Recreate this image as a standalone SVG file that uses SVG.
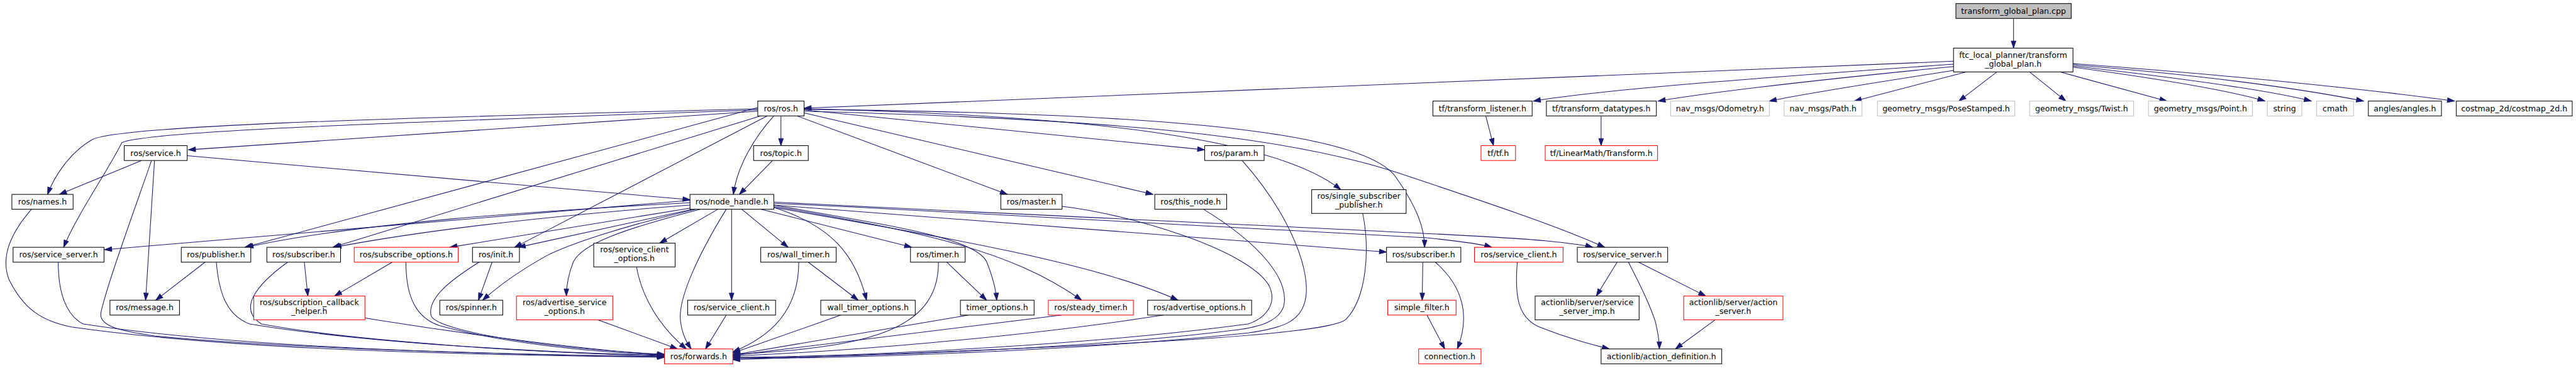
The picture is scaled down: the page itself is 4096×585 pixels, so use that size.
<svg xmlns="http://www.w3.org/2000/svg" width="4096" height="585" viewBox="0 0 4096 585">
<defs>
<style>
rect{fill:#fff;stroke:#000;stroke-width:1.1}
.g rect{stroke:#bfbfbf}
.r rect{stroke:#ff0000}
.root rect{fill:#bfbfbf}
text{font-family:"DejaVu Sans","Liberation Sans",sans-serif;font-size:13.33px;text-anchor:middle;fill:#000}
#edges path{fill:none;stroke:#191970;stroke-width:1.1;marker-end:url(#a)}
</style>
<marker id="a" markerUnits="userSpaceOnUse" markerWidth="13" markerHeight="10" refX="12" refY="5" orient="auto" overflow="visible"><path d="M0,1 L12,5 L0,9 z" fill="#191970" stroke="#191970" stroke-width="1"/></marker>
</defs>
<rect x="0" y="0" width="4096" height="585" style="fill:#fff;stroke:none"/>
<g transform="scale(0.945)">
<g id="edges">
<path d="M3388,31 L3388,81"/>
<path d="M3287,103 L1353,182"/>
<path d="M3287,108 C3000,128 2700,150 2580,170"/>
<path d="M3287,112 C3050,135 2900,152 2790,170"/>
<path d="M3290,118 C3150,140 3050,155 2977,170"/>
<path d="M3309,121 L3120,170"/>
<path d="M3360,121 L3296,170"/>
<path d="M3415,121 L3476,170"/>
<path d="M3466,121 L3646,170"/>
<path d="M3488,113 C3650,135 3760,155 3811,170"/>
<path d="M3488,111 C3700,135 3830,155 3889,170"/>
<path d="M3488,109 C3750,130 3900,155 3977,170"/>
<path d="M3488,107 C3800,130 4020,155 4130,170"/>
<path d="M2500,195 L2513,245"/>
<path d="M2694,195 L2694,245"/>
<path d="M1275,187 L317,252"/>
<path d="M1275,183 C600,200 200,212 155,235 C115,258 90,300 80,327"/>
<path d="M1275,185 C700,205 240,220 205,240 C180,290 130,360 107,416"/>
<path d="M1275,181 L412,416"/>
<path d="M1280,195 L560,416"/>
<path d="M1291,195 L866,416"/>
<path d="M1302,195 C1270,230 1240,280 1234,327"/>
<path d="M1314,195 L1314,245"/>
<path d="M1341,195 L1695,327"/>
<path d="M1353,190 L1940,327"/>
<path d="M1353,185 L2027,252"/>
<path d="M1353,183 C1850,195 2150,235 2256,319"/>
<path d="M1353,184 C1950,190 2300,220 2350,300 C2385,350 2397,385 2397,416"/>
<path d="M1353,187 C1850,200 2150,225 2350,290 C2500,340 2620,380 2700,416"/>
<path d="M238,270 L100,327"/>
<path d="M260,270 L245,505"/>
<path d="M255,270 C220,370 180,480 170,525 C165,548 200,557 260,565 C500,588 900,597 1118,600"/>
<path d="M315,262 L1161,336"/>
<path d="M1300,270 L1244,327"/>
<path d="M53,352 C20,390 0,430 15,470 C40,520 70,540 120,550 C400,590 800,597 1118,601"/>
<path d="M1161,337 L176,420"/>
<path d="M1161,341 C900,355 600,375 414,416"/>
<path d="M1161,345 C900,365 700,390 562,416"/>
<path d="M1162,350 L757,416"/>
<path d="M1165,352 L872,416"/>
<path d="M1170,352 C1050,380 960,410 920,430 C875,455 840,480 812,505"/>
<path d="M1178,352 C1050,385 980,410 965,440 C956,462 953,480 953,498"/>
<path d="M1208,352 L1110,409"/>
<path d="M1222,352 C1180,420 1140,500 1145,540 C1148,565 1157,578 1163,587"/>
<path d="M1231,352 L1231,505"/>
<path d="M1248,352 L1326,416"/>
<path d="M1302,349 C1400,380 1440,430 1458,505"/>
<path d="M1281,352 L1534,416"/>
<path d="M1302,345 C1500,380 1640,400 1660,440 C1672,470 1676,490 1677,505"/>
<path d="M1302,347 C1550,390 1700,420 1820,505"/>
<path d="M1302,349 C1600,400 1850,445 1982,505"/>
<path d="M1302,345 L2333,424"/>
<path d="M1302,342 C1800,365 2350,395 2400,400 C2450,405 2490,410 2510,416"/>
<path d="M1302,340 C1900,370 2500,395 2600,405 C2640,409 2665,412 2680,416"/>
<path d="M98,441 C98,490 110,530 140,545 C400,585 800,596 1118,600"/>
<path d="M345,441 L262,505"/>
<path d="M364,441 C368,490 380,530 420,545 C600,575 900,593 1118,599"/>
<path d="M512,441 L518,498"/>
<path d="M484,441 C430,480 400,520 440,545 C600,575 900,593 1118,598"/>
<path d="M660,441 L563,498"/>
<path d="M683,441 C683,500 700,535 740,548 C850,578 1000,593 1118,597"/>
<path d="M828,441 L805,505"/>
<path d="M806,441 C760,470 720,500 725,530 C730,555 900,585 1118,596"/>
<path d="M614,535 C800,565 1000,590 1118,597"/>
<path d="M1006,538 L1140,587"/>
<path d="M1071,449 C1080,500 1110,550 1155,587"/>
<path d="M1222,530 L1187,587"/>
<path d="M1344,441 C1344,520 1300,565 1233,592"/>
<path d="M1360,441 L1444,505"/>
<path d="M1593,441 L1660,505"/>
<path d="M1579,441 C1580,560 1450,585 1233,596"/>
<path d="M1415,530 L1233,594"/>
<path d="M1630,530 L1233,597"/>
<path d="M1787,530 L1233,598"/>
<path d="M1958,530 C1700,570 1400,592 1233,599"/>
<path d="M1787,347 C1900,360 2100,420 2135,480 C2150,510 2130,535 2100,545 C1800,585 1400,600 1233,601"/>
<path d="M2025,352 C2120,410 2170,470 2160,515 C2152,540 2120,550 2080,555 C1800,590 1400,601 1233,602"/>
<path d="M2090,270 C2170,360 2210,460 2195,510 C2186,540 2160,552 2100,560 C1800,592 1400,603 1233,603"/>
<path d="M2293,359 C2305,420 2300,500 2265,537 C2240,560 2000,578 1233,605"/>
<path d="M2394,441 L2393,505"/>
<path d="M2415,441 C2460,480 2475,530 2452,587"/>
<path d="M2401,530 L2431,587"/>
<path d="M2553,441 C2548,500 2555,535 2590,550 C2640,570 2680,580 2708,587"/>
<path d="M2721,441 L2686,498"/>
<path d="M2740,441 C2760,480 2775,510 2785,540 C2790,560 2792,575 2792,587"/>
<path d="M2757,441 L2870,498"/>
<path d="M2886,538 L2819,587"/>
</g>
<g id="n_cpp" class="root"><rect x="3291" y="6" width="194" height="25"/><text x="3388" y="23">transform_global_plan.cpp</text></g>
<g id="n_ftc"><rect x="3287" y="81" width="201" height="40"/><text x="3387.5" y="97">ftc_local_planner/transform</text><text x="3387.5" y="112">_global_plan.h</text></g>
<g id="n_ros"><rect x="1275" y="170" width="78" height="25"/><text x="1314" y="187">ros/ros.h</text></g>
<g id="n_tl"><rect x="2411" y="170" width="167" height="25"/><text x="2494.5" y="187">tf/transform_listener.h</text></g>
<g id="n_td"><rect x="2602" y="170" width="185" height="25"/><text x="2694.5" y="187">tf/transform_datatypes.h</text></g>
<g id="n_odo" class="g"><rect x="2811" y="170" width="166" height="25"/><text x="2894" y="187">nav_msgs/Odometry.h</text></g>
<g id="n_path" class="g"><rect x="3002" y="170" width="131" height="25"/><text x="3067.5" y="187">nav_msgs/Path.h</text></g>
<g id="n_pose" class="g"><rect x="3159" y="170" width="231" height="25"/><text x="3274.5" y="187">geometry_msgs/PoseStamped.h</text></g>
<g id="n_twist" class="g"><rect x="3415" y="170" width="175" height="25"/><text x="3502.5" y="187">geometry_msgs/Twist.h</text></g>
<g id="n_point" class="g"><rect x="3615" y="170" width="175" height="25"/><text x="3702.5" y="187">geometry_msgs/Point.h</text></g>
<g id="n_string" class="g"><rect x="3815" y="170" width="58" height="25"/><text x="3844" y="187">string</text></g>
<g id="n_cmath" class="g"><rect x="3898" y="170" width="62" height="25"/><text x="3929" y="187">cmath</text></g>
<g id="n_angles"><rect x="3985" y="170" width="123" height="25"/><text x="4046.5" y="187">angles/angles.h</text></g>
<g id="n_costmap"><rect x="4133" y="170" width="195" height="25"/><text x="4230.5" y="187">costmap_2d/costmap_2d.h</text></g>
<g id="n_service"><rect x="209" y="245" width="106" height="25"/><text x="262" y="262">ros/service.h</text></g>
<g id="n_topic"><rect x="1268" y="245" width="92" height="25"/><text x="1314" y="262">ros/topic.h</text></g>
<g id="n_param"><rect x="2027" y="245" width="100" height="25"/><text x="2077" y="262">ros/param.h</text></g>
<g id="n_tftf" class="r"><rect x="2492" y="245" width="58" height="25"/><text x="2521" y="262">tf/tf.h</text></g>
<g id="n_lmt" class="r"><rect x="2600" y="245" width="189" height="25"/><text x="2694.5" y="262">tf/LinearMath/Transform.h</text></g>
<g id="n_names"><rect x="20" y="327" width="103" height="25"/><text x="71.5" y="344">ros/names.h</text></g>
<g id="n_nh"><rect x="1161" y="327" width="141" height="25"/><text x="1231.5" y="344">ros/node_handle.h</text></g>
<g id="n_master"><rect x="1684" y="327" width="103" height="25"/><text x="1735.5" y="344">ros/master.h</text></g>
<g id="n_thisnode"><rect x="1943" y="327" width="121" height="25"/><text x="2003.5" y="344">ros/this_node.h</text></g>
<g id="n_ssp"><rect x="2207" y="319" width="159" height="40"/><text x="2286.5" y="334.5">ros/single_subscriber</text><text x="2286.5" y="349.5">_publisher.h</text></g>
<g id="n_ssA"><rect x="22" y="416" width="153" height="25"/><text x="98.5" y="433">ros/service_server.h</text></g>
<g id="n_pub"><rect x="305" y="416" width="117" height="25"/><text x="363.5" y="433">ros/publisher.h</text></g>
<g id="n_subA"><rect x="449" y="416" width="124" height="25"/><text x="511" y="433">ros/subscriber.h</text></g>
<g id="n_subopt" class="r"><rect x="596" y="416" width="175" height="25"/><text x="683.5" y="433">ros/subscribe_options.h</text></g>
<g id="n_init"><rect x="795" y="416" width="79" height="25"/><text x="834.5" y="433">ros/init.h</text></g>
<g id="n_sco"><rect x="999" y="409" width="137" height="40"/><text x="1067.5" y="424.5">ros/service_client</text><text x="1067.5" y="439.5">_options.h</text></g>
<g id="n_wt"><rect x="1280" y="416" width="127" height="25"/><text x="1343.5" y="433">ros/wall_timer.h</text></g>
<g id="n_timer"><rect x="1532" y="416" width="92" height="25"/><text x="1578" y="433">ros/timer.h</text></g>
<g id="n_subB"><rect x="2333" y="416" width="125" height="25"/><text x="2395.5" y="433">ros/subscriber.h</text></g>
<g id="n_scR" class="r"><rect x="2481" y="416" width="149" height="25"/><text x="2555.5" y="433">ros/service_client.h</text></g>
<g id="n_ssB"><rect x="2654" y="416" width="152" height="25"/><text x="2730" y="433">ros/service_server.h</text></g>
<g id="n_msg"><rect x="185" y="505" width="117" height="25"/><text x="243.5" y="522">ros/message.h</text></g>
<g id="n_sch" class="r"><rect x="427" y="498" width="187" height="40"/><text x="520.5" y="513.5">ros/subscription_callback</text><text x="520.5" y="528.5">_helper.h</text></g>
<g id="n_spin"><rect x="740" y="505" width="106" height="25"/><text x="793" y="522">ros/spinner.h</text></g>
<g id="n_aso" class="r"><rect x="869" y="498" width="162" height="40"/><text x="950" y="513.5">ros/advertise_service</text><text x="950" y="528.5">_options.h</text></g>
<g id="n_sc"><rect x="1157" y="505" width="148" height="25"/><text x="1231" y="522">ros/service_client.h</text></g>
<g id="n_wto"><rect x="1381" y="505" width="159" height="25"/><text x="1460.5" y="522">wall_timer_options.h</text></g>
<g id="n_to"><rect x="1616" y="505" width="124" height="25"/><text x="1678" y="522">timer_options.h</text></g>
<g id="n_st" class="r"><rect x="1764" y="505" width="143" height="25"/><text x="1835.5" y="522">ros/steady_timer.h</text></g>
<g id="n_ao"><rect x="1931" y="505" width="175" height="25"/><text x="2018.5" y="522">ros/advertise_options.h</text></g>
<g id="n_sf" class="r"><rect x="2335" y="505" width="115" height="25"/><text x="2392.5" y="522">simple_filter.h</text></g>
<g id="n_ssi"><rect x="2583" y="498" width="175" height="40"/><text x="2670.5" y="513.5">actionlib/server/service</text><text x="2670.5" y="528.5">_server_imp.h</text></g>
<g id="n_as" class="r"><rect x="2833" y="498" width="167" height="40"/><text x="2916.5" y="513.5">actionlib/server/action</text><text x="2916.5" y="528.5">_server.h</text></g>
<g id="n_fw" class="r"><rect x="1118" y="587" width="115" height="25"/><text x="1175.5" y="604">ros/forwards.h</text></g>
<g id="n_conn" class="r"><rect x="2387" y="587" width="105" height="25"/><text x="2439.5" y="604">connection.h</text></g>
<g id="n_ad"><rect x="2694" y="587" width="203" height="25"/><text x="2795.5" y="604">actionlib/action_definition.h</text></g>
</g>
</svg>
